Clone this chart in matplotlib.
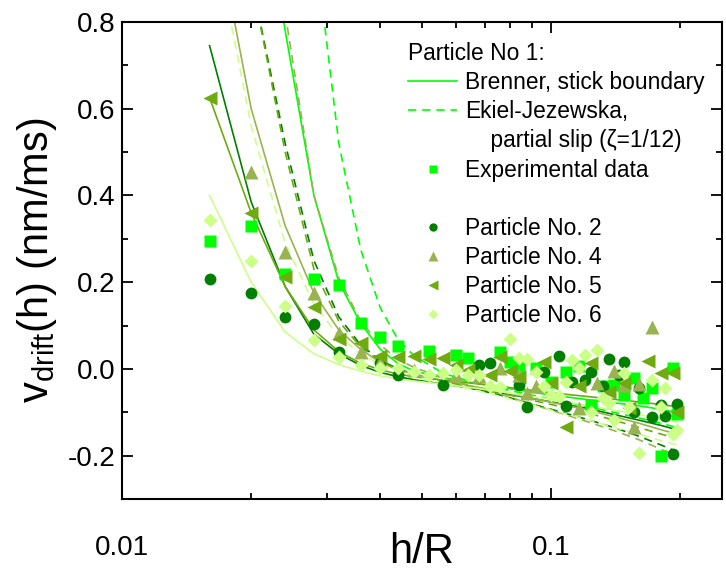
import matplotlib.pyplot as plt
from matplotlib.lines import Line2D
from matplotlib.ticker import MultipleLocator, NullFormatter

plt.rcParams['font.family'] = ['Liberation Sans', 'DejaVu Sans']
plt.rcParams['mathtext.fontset'] = 'custom'
plt.rcParams['mathtext.rm'] = 'Liberation Sans'
plt.rcParams['mathtext.it'] = 'Liberation Sans:italic'
plt.rcParams['axes.unicode_minus'] = False

# -------------------------
# theory curves (h/R grid)
# -------------------------
line_h = [0.016, 0.020, 0.024, 0.028, 0.032, 0.036, 0.040, 0.044, 0.048, 0.056,
          0.064, 0.076, 0.088, 0.100, 0.120, 0.140, 0.160, 0.180, 0.196]

brenner_p1 = [3.0, 1.30, 0.78, 0.40, 0.20, 0.105, 0.045, 0.012, -0.005, -0.020,
              -0.030, -0.042, -0.052, -0.060, -0.070, -0.078, -0.085, -0.093, -0.100]
brenner_p2 = [0.745, 0.385, 0.19, 0.08, 0.035, 0.008, -0.008, -0.018, -0.025, -0.035,
              -0.043, -0.055, -0.066, -0.076, -0.090, -0.105, -0.118, -0.130, -0.140]
brenner_p4 = [1.10, 0.60, 0.33, 0.175, 0.09, 0.045, 0.015, -0.002, -0.012, -0.027,
              -0.038, -0.052, -0.065, -0.077, -0.093, -0.110, -0.125, -0.140, -0.150]
brenner_p5 = [0.625, 0.36, 0.19, 0.09, 0.04, 0.013, -0.002, -0.012, -0.018, -0.026,
              -0.032, -0.040, -0.048, -0.055, -0.063, -0.070, -0.076, -0.082, -0.087]
brenner_p6 = [0.40, 0.20, 0.085, 0.035, 0.010, -0.005, -0.016, -0.023, -0.028, -0.035,
              -0.042, -0.052, -0.062, -0.070, -0.083, -0.095, -0.105, -0.115, -0.122]

ekiel_p1 = [6.0, 3.0, 1.9, 1.0, 0.52, 0.275, 0.14, 0.067, 0.030, -0.010,
            -0.027, -0.045, -0.058, -0.070, -0.085, -0.100, -0.113, -0.125, -0.135]
ekiel_p2 = [2.0, 0.90, 0.52, 0.25, 0.12, 0.055, 0.020, 0.000, -0.012, -0.030,
            -0.043, -0.060, -0.078, -0.093, -0.115, -0.135, -0.155, -0.175, -0.190]
ekiel_p4 = [3.0, 1.55, 0.82, 0.40, 0.21, 0.11, 0.055, 0.022, 0.003, -0.020,
            -0.037, -0.058, -0.078, -0.095, -0.120, -0.142, -0.163, -0.185, -0.200]
ekiel_p5 = [2.0, 0.90, 0.50, 0.23, 0.11, 0.05, 0.018, -0.002, -0.014, -0.030,
            -0.040, -0.055, -0.070, -0.082, -0.100, -0.118, -0.135, -0.150, -0.160]
ekiel_p6 = [1.05, 0.56, 0.29, 0.15, 0.075, 0.035, 0.010, -0.006, -0.017, -0.032,
            -0.045, -0.063, -0.080, -0.095, -0.115, -0.135, -0.150, -0.165, -0.175]

# -------------------------
# measured drift velocities
# -------------------------
h_p1 = [0.016, 0.020, 0.024, 0.028, 0.032, 0.036, 0.040, 0.044, 0.052, 0.060,
        0.064, 0.076, 0.080, 0.084, 0.092, 0.100, 0.108, 0.116, 0.124, 0.132,
        0.140, 0.148, 0.156, 0.164, 0.172, 0.180, 0.192, 0.196]
v_p1 = [0.295, 0.330, 0.218, 0.207, 0.193, 0.106, 0.073, 0.053, 0.041, 0.032,
        0.025, 0.039, 0.016, 0.005, 0.002, -0.030, -0.007, 0.007, -0.083, -0.040,
        -0.037, -0.060, -0.020, -0.067, -0.045, -0.200, 0.002, -0.105]

h_p2 = [0.016, 0.020, 0.024, 0.028, 0.032, 0.040, 0.044, 0.056, 0.068, 0.072,
        0.084, 0.088, 0.096, 0.104, 0.108, 0.112, 0.120, 0.124, 0.132, 0.136,
        0.144, 0.148, 0.156, 0.160, 0.172, 0.180, 0.184, 0.192, 0.196]
v_p2 = [0.207, 0.175, 0.120, 0.103, 0.039, 0.014, -0.014, -0.037, 0.009, 0.014,
        -0.037, -0.087, -0.007, 0.030, -0.085, -0.030, -0.025, -0.007, -0.040, 0.023,
        -0.014, 0.016, -0.100, -0.044, -0.110, -0.083, -0.108, -0.195, -0.080]

h_p4 = [0.020, 0.024, 0.028, 0.032, 0.036, 0.040, 0.048, 0.060, 0.068, 0.076,
        0.084, 0.088, 0.092, 0.116, 0.128, 0.140, 0.148, 0.156, 0.160, 0.172]
v_p4 = [0.453, 0.269, 0.175, 0.083, 0.040, 0.016, -0.002, -0.014, -0.016, 0.002,
        -0.014, -0.055, -0.040, -0.090, -0.032, -0.005, -0.037, -0.133, -0.034, 0.097]

h_p5 = [0.016, 0.020, 0.024, 0.028, 0.032, 0.036, 0.040, 0.044, 0.048, 0.052,
        0.056, 0.060, 0.064, 0.072, 0.076, 0.080, 0.084, 0.096, 0.100, 0.108,
        0.116, 0.124, 0.136, 0.148, 0.152, 0.168, 0.180, 0.192, 0.196]
v_p5 = [0.625, 0.360, 0.212, 0.142, 0.070, 0.060, 0.030, 0.028, 0.030, 0.023,
        0.025, 0.009, -0.002, -0.014, 0.028, -0.005, -0.018, 0.016, -0.032, -0.133,
        -0.040, 0.014, -0.053, -0.032, -0.090, 0.018, -0.009, -0.009, -0.100]

h_p6 = [0.016, 0.020, 0.024, 0.028, 0.032, 0.036, 0.040, 0.044, 0.048, 0.052,
        0.056, 0.060, 0.064, 0.068, 0.072, 0.076, 0.080, 0.084, 0.088, 0.092,
        0.096, 0.100, 0.104, 0.108, 0.112, 0.116, 0.120, 0.124, 0.128, 0.132,
        0.136, 0.140, 0.148, 0.152, 0.160, 0.172, 0.180, 0.184, 0.192, 0.196]
v_p6 = [0.343, 0.248, 0.145, 0.067, 0.028, 0.009, 0.002, 0.002, -0.007, -0.014,
        -0.009, -0.002, -0.014, -0.014, -0.040, -0.041, 0.070, 0.025, 0.023, -0.007,
        -0.040, -0.060, -0.062, -0.030, 0.020, 0.002, 0.032, -0.100, 0.044, -0.067,
        -0.078, -0.117, -0.009, -0.087, -0.193, -0.025, -0.087, -0.044, -0.150, -0.140]

c_p1 = '#00ff00'
c_p2 = '#007f00'
c_p4 = '#99b350'
c_p5 = '#6eaa10'
c_p6 = '#ccff88'

fig = plt.figure(figsize=(7.26, 5.75), dpi=100)
ax = fig.add_axes([0.168, 0.132, 0.8265, 0.830])

theory = [(brenner_p1, ekiel_p1, c_p1), (brenner_p2, ekiel_p2, c_p2),
          (brenner_p4, ekiel_p4, c_p4), (brenner_p5, ekiel_p5, c_p5),
          (brenner_p6, ekiel_p6, c_p6)]
for stick, slip, col in theory:
    ax.plot(line_h, stick, '-', color=col, lw=1.2)
    ax.plot(line_h, slip, '--', color=col, lw=1.2, dashes=(5, 3.5))

ax.plot(h_p1, v_p1, 's', color=c_p1, ms=8, mec='none')
ax.plot(h_p2, v_p2, 'o', color=c_p2, ms=8.5, mec='none')
ax.plot(h_p4, v_p4, '^', color=c_p4, ms=10, mec='none')
ax.plot(h_p5, v_p5, '<', color=c_p5, ms=10, mec='none')
ax.plot(h_p6, v_p6, 'D', color=c_p6, ms=7.5, mec='none')

ax.set_xscale('log')
ax.set_xlim(0.01, 0.25)
ax.set_ylim(-0.3, 0.8)
ax.set_xticks([0.01, 0.1], ['0.01', '0.1'])
ax.xaxis.set_minor_formatter(NullFormatter())
ax.yaxis.set_major_locator(MultipleLocator(0.2))
ax.yaxis.set_minor_locator(MultipleLocator(0.1))
ax.yaxis.set_major_formatter(lambda v, pos: '%.1f' % v)

ax.tick_params(which='both', direction='in', top=True, right=True,
               width=1.3, labelsize=20)
ax.tick_params(axis='x', pad=26)
ax.tick_params(axis='y', pad=5)
ax.tick_params(which='major', length=8)
ax.tick_params(which='minor', length=4)
for s in ax.spines.values():
    s.set_linewidth(1.5)

ax.set_xlabel('h/R', fontsize=30)
ax.xaxis.set_label_coords(0.5, -0.068)
ax.set_ylabel(r'v$_{\mathrm{drift}}$(h) (nm/ms)', fontsize=30, labelpad=6)

# -------------------------
# legend
# -------------------------
none = Line2D([], [], linestyle='none')
handles = [
    Line2D([], [], color=c_p1, lw=1.2),
    Line2D([], [], color=c_p1, lw=1.2, ls='--', dashes=(5, 3.5)),
    none,
    Line2D([], [], color=c_p1, marker='s', ls='none', ms=6, mec='none'),
    none,
    Line2D([], [], color=c_p2, marker='o', ls='none', ms=6, mec='none'),
    Line2D([], [], color=c_p4, marker='^', ls='none', ms=6.5, mec='none'),
    Line2D([], [], color=c_p5, marker='<', ls='none', ms=6.5, mec='none'),
    Line2D([], [], color=c_p6, marker='D', ls='none', ms=5.5, mec='none'),
]
labels = [
    'Brenner, stick boundary',
    'Ekiel-Jezewska,',
    '    partial slip (ζ=1/12)',
    'Experimental data',
    '',
    'Particle No. 2',
    'Particle No. 4',
    'Particle No. 5',
    'Particle No. 6',
]
leg = ax.legend(handles, labels, loc='upper left', bbox_to_anchor=(0.477, 0.957),
                frameon=False, fontsize=16.4, title='Particle No 1:',
                title_fontsize=16.4, alignment='left', handlelength=2.15,
                handletextpad=0.35, labelspacing=0.265, borderpad=0,
                borderaxespad=0)

fig.savefig('out.png', dpi=100)
plt.close(fig)
